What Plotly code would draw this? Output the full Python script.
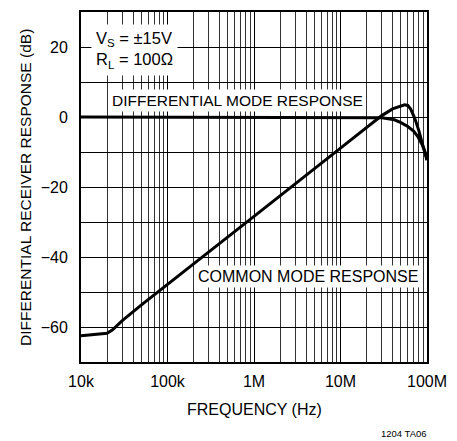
import plotly.graph_objects as go

# Frequency response data (Hz, dB)
freq_diff = [1e4, 1e5, 1e6, 1e7, 2e7, 3e7, 4.2e7, 5e7, 6e7, 7e7, 7.8e7, 8.5e7, 9e7, 9.5e7, 1e8]
resp_diff = [0, 0, 0, 0, 0, -0.2, -0.8, -1.6, -2.7, -4.0, -5.5, -7.0, -8.4, -10.0, -12.3]

freq_cm = [1e4, 1.5e4, 2e4, 2.3e4, 3e4, 5e4, 1e5, 1e6, 1e7, 2e7, 3e7, 4e7, 5e7,
           5.5e7, 6e7, 6.5e7, 7.2e7, 8.1e7, 9e7, 1e8]
resp_cm = [-62.5, -62.2, -61.8, -60.9, -58.2, -53.7, -47.9, -28.4, -8.9, -3.0, 0.4,
           2.3, 3.3, 3.5, 3.3, 2.2, -0.3, -4.1, -8.4, -12.3]

x_major = [1e4, 1e5, 1e6, 1e7, 1e8]
x_labels = ["10k", "100k", "1M", "10M", "100M"]
x_minor = [m * 10 ** d for d in range(4, 8) for m in range(2, 10)]

y_ticks = [-70, -60, -50, -40, -30, -20, -10, 0, 10, 20, 30]
y_labels = ["", "\u221260", "", "\u221240", "", "\u221220", "", "0", "", "20", ""]

FONT = "Liberation Sans Narrow, Arial Narrow, Liberation Sans, sans-serif"

fig = go.Figure()
fig.add_trace(go.Scatter(x=freq_diff, y=resp_diff, mode="lines",
                         line=dict(color="black", width=3), showlegend=False))
fig.add_trace(go.Scatter(x=freq_cm, y=resp_cm, mode="lines",
                         line=dict(color="black", width=3), showlegend=False))

fig.update_layout(
    width=457, height=441,
    margin=dict(l=81, r=24, t=10, b=79),
    paper_bgcolor="white", plot_bgcolor="white",
    font=dict(family=FONT, size=16, color="black"),
    xaxis=dict(
        type="log", range=[4, 8],
        tickmode="array", tickvals=x_major, ticktext=x_labels,
        showgrid=True, gridcolor="black", gridwidth=1,
        minor=dict(tickvals=x_minor, showgrid=True, gridcolor="#333", gridwidth=1, ticks=""),
        ticks="", ticklabelstandoff=4,
        showline=True, linecolor="black", linewidth=2, mirror=True,
        zeroline=False,
    ),
    yaxis=dict(
        range=[-70, 30],
        tickmode="array", tickvals=y_ticks, ticktext=y_labels,
        showgrid=True, gridcolor="black", gridwidth=1,
        ticks="", ticklabelstandoff=8,
        showline=True, linecolor="black", linewidth=2, mirror=True,
        zeroline=False,
    ),
)

fig.add_annotation(xref="paper", yref="paper", x=0.5, y=-0.135,
                   xanchor="center", yanchor="middle", showarrow=False,
                   text="FREQUENCY (Hz)", font=dict(size=16))
fig.add_annotation(xref="paper", yref="paper", x=-0.162, y=0.5,
                   xanchor="center", yanchor="middle", showarrow=False, textangle=-90,
                   text="DIFFERENTIAL RECEIVER RESPONSE (dB)", font=dict(size=15.5))
fig.add_annotation(xref="paper", yref="paper", x=1.005, y=-0.205,
                   xanchor="right", yanchor="middle", showarrow=False,
                   text="1204 TA06", font=dict(size=9.5))

fig.add_annotation(xref="paper", yref="paper", x=0.03, y=0.965,
                   xanchor="left", yanchor="top", showarrow=False, align="left",
                   text="V<sub>S</sub> = \u00b115V<br>R<sub>L</sub> = 100\u03a9",
                   bgcolor="white", borderpad=4, font=dict(size=16.5))
fig.add_annotation(xref="paper", yref="y", x=0.08, y=4.6,
                   xanchor="left", yanchor="middle", showarrow=False,
                   text="DIFFERENTIAL MODE RESPONSE", bgcolor="white", borderpad=2,
                   font=dict(size=15.5))
fig.add_annotation(xref="paper", yref="y", x=0.33, y=-45.5,
                   xanchor="left", yanchor="middle", showarrow=False,
                   text="COMMON MODE RESPONSE", bgcolor="white", borderpad=2,
                   font=dict(size=16))

fig.write_html("out.html")
